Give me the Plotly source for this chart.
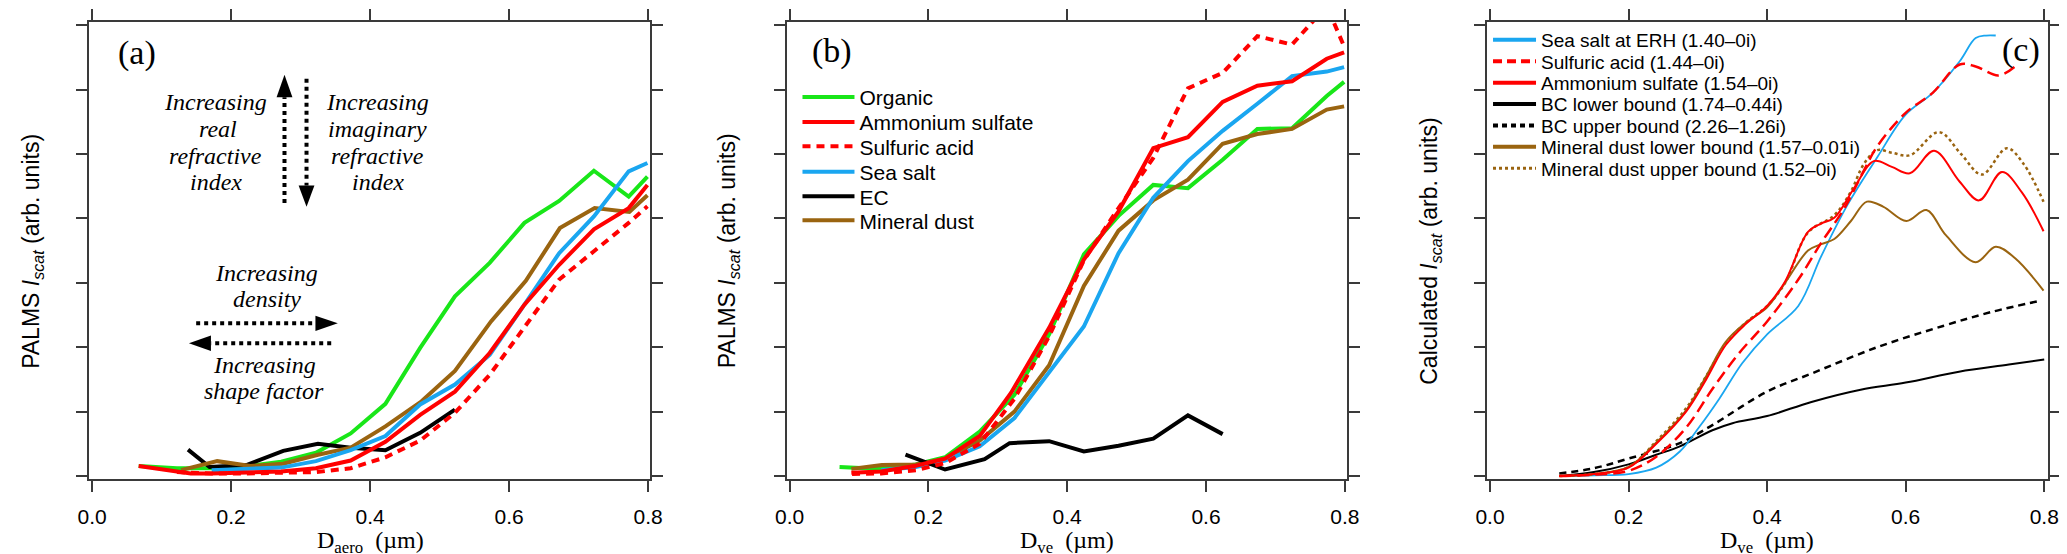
import plotly.graph_objects as go

# ---------------- data ----------------
# Panel (a): PALMS Iscat vs D_aero
a_org_x = [0.067, 0.122, 0.172, 0.222, 0.272, 0.322, 0.372, 0.422, 0.472, 0.522, 0.572, 0.622, 0.672, 0.722, 0.772, 0.799]
a_org_y = [0.155, 0.12, 0.12, 0.15, 0.22, 0.36, 0.66, 1.12, 1.99, 2.79, 3.31, 3.93, 4.27, 4.74, 4.34, 4.65]
a_as_x = [0.067, 0.142, 0.172, 0.222, 0.272, 0.322, 0.372, 0.422, 0.472, 0.522, 0.572, 0.622, 0.672, 0.722, 0.772, 0.799]
a_as_y = [0.155, 0.04, 0.04, 0.05, 0.07, 0.12, 0.24, 0.53, 0.95, 1.31, 1.91, 2.66, 3.28, 3.83, 4.16, 4.52]
a_sa_x = [0.122, 0.172, 0.222, 0.272, 0.322, 0.372, 0.422, 0.472, 0.522, 0.572, 0.622, 0.672, 0.722, 0.772, 0.799]
a_sa_y = [0.06, 0.04, 0.04, 0.05, 0.06, 0.12, 0.29, 0.55, 0.98, 1.57, 2.30, 3.05, 3.49, 3.93, 4.19]
a_ss_x = [0.172, 0.222, 0.272, 0.322, 0.372, 0.422, 0.472, 0.522, 0.572, 0.622, 0.672, 0.722, 0.772, 0.799]
a_ss_y = [0.09, 0.11, 0.13, 0.23, 0.40, 0.62, 1.11, 1.42, 1.88, 2.66, 3.46, 4.03, 4.73, 4.86]
a_ec_x = [0.138, 0.169, 0.222, 0.275, 0.325, 0.372, 0.422, 0.472, 0.522]
a_ec_y = [0.41, 0.14, 0.17, 0.39, 0.50, 0.44, 0.40, 0.67, 1.03]
a_md_x = [0.128, 0.180, 0.228, 0.275, 0.325, 0.372, 0.422, 0.474, 0.522, 0.574, 0.624, 0.673, 0.723, 0.773, 0.799]
a_md_y = [0.09, 0.23, 0.155, 0.19, 0.33, 0.44, 0.77, 1.16, 1.63, 2.40, 3.03, 3.85, 4.16, 4.10, 4.36]

# Panel (b): PALMS Iscat vs D_ve
b_org_x = [0.072, 0.132, 0.182, 0.224, 0.274, 0.324, 0.374, 0.424, 0.474, 0.524, 0.574, 0.624, 0.674, 0.724, 0.774, 0.799]
b_org_y = [0.14, 0.11, 0.18, 0.29, 0.69, 1.26, 2.20, 3.44, 4.04, 4.52, 4.47, 4.91, 5.39, 5.40, 5.90, 6.12]
b_as_x = [0.089, 0.132, 0.182, 0.224, 0.274, 0.319, 0.374, 0.424, 0.474, 0.524, 0.574, 0.624, 0.674, 0.724, 0.774, 0.799]
b_as_y = [0.05, 0.07, 0.16, 0.27, 0.62, 1.29, 2.30, 3.36, 4.11, 5.09, 5.26, 5.81, 6.06, 6.13, 6.48, 6.58]
b_sa_x = [0.090, 0.132, 0.182, 0.224, 0.274, 0.324, 0.374, 0.424, 0.474, 0.524, 0.574, 0.624, 0.674, 0.724, 0.774, 0.799]
b_sa_y = [0.03, 0.04, 0.09, 0.20, 0.50, 1.20, 2.17, 3.35, 4.16, 4.94, 6.02, 6.26, 6.83, 6.70, 7.30, 6.67]
b_ss_x = [0.132, 0.182, 0.224, 0.274, 0.324, 0.374, 0.424, 0.474, 0.524, 0.574, 0.624, 0.674, 0.724, 0.774, 0.799]
b_ss_y = [0.09, 0.14, 0.24, 0.46, 0.90, 1.60, 2.32, 3.46, 4.32, 4.89, 5.36, 5.78, 6.21, 6.28, 6.35]
b_ec_x = [0.167, 0.224, 0.281, 0.317, 0.374, 0.424, 0.474, 0.524, 0.574, 0.624]
b_ec_y = [0.33, 0.10, 0.26, 0.51, 0.54, 0.38, 0.47, 0.58, 0.94, 0.65]
b_md_x = [0.089, 0.133, 0.182, 0.224, 0.274, 0.324, 0.374, 0.424, 0.474, 0.524, 0.574, 0.624, 0.674, 0.724, 0.774, 0.799]
b_md_y = [0.11, 0.17, 0.18, 0.27, 0.55, 1.00, 1.72, 2.95, 3.81, 4.28, 4.60, 5.16, 5.31, 5.39, 5.69, 5.74]

# Panel (c): calculated Iscat vs D_ve
c_ss_x = [0.10, 0.15, 0.20, 0.24, 0.274, 0.302, 0.331, 0.364, 0.40, 0.445, 0.478, 0.516, 0.559, 0.60, 0.639, 0.678, 0.701, 0.716, 0.730]
c_ss_y = [0.0, 0.01, 0.03, 0.13, 0.38, 0.76, 1.20, 1.75, 2.20, 2.64, 3.41, 4.21, 4.95, 5.61, 5.95, 6.44, 6.80, 6.84, 6.84]
c_sa_x = [0.10, 0.15, 0.20, 0.24, 0.283, 0.321, 0.359, 0.40, 0.445, 0.478, 0.511, 0.54, 0.559, 0.60, 0.639, 0.678, 0.701, 0.734, 0.758]
c_sa_y = [0.0, 0.02, 0.08, 0.30, 0.75, 1.35, 1.90, 2.40, 3.05, 3.62, 4.15, 4.75, 5.12, 5.64, 5.95, 6.39, 6.36, 6.22, 6.36]
c_as_x = [0.10, 0.15, 0.20, 0.24, 0.283, 0.312, 0.340, 0.369, 0.40, 0.426, 0.459, 0.478, 0.497, 0.525, 0.554, 0.58, 0.606, 0.641, 0.678, 0.706, 0.739, 0.768, 0.799]
c_as_y = [0.0, 0.03, 0.13, 0.50, 1.00, 1.50, 2.03, 2.36, 2.64, 3.02, 3.79, 3.92, 4.01, 4.46, 4.89, 4.80, 4.70, 5.05, 4.57, 4.28, 4.72, 4.40, 3.80]
c_bcl_x = [0.10, 0.15, 0.20, 0.24, 0.274, 0.321, 0.350, 0.40, 0.464, 0.535, 0.60, 0.677, 0.749, 0.80]
c_bcl_y = [0.0, 0.06, 0.18, 0.33, 0.46, 0.71, 0.82, 0.93, 1.15, 1.34, 1.45, 1.62, 1.73, 1.81]
c_bcu_x = [0.10, 0.15, 0.20, 0.274, 0.321, 0.40, 0.464, 0.559, 0.654, 0.725, 0.794]
c_bcu_y = [0.04, 0.12, 0.27, 0.51, 0.79, 1.31, 1.59, 2.00, 2.33, 2.55, 2.72]
c_mdl_x = [0.10, 0.15, 0.20, 0.24, 0.283, 0.312, 0.340, 0.369, 0.40, 0.426, 0.459, 0.478, 0.497, 0.521, 0.544, 0.568, 0.601, 0.630, 0.658, 0.701, 0.730, 0.758, 0.799]
c_mdl_y = [0.0, 0.03, 0.14, 0.52, 1.02, 1.55, 2.08, 2.38, 2.62, 3.00, 3.50, 3.60, 3.68, 3.96, 4.26, 4.18, 3.96, 4.13, 3.74, 3.32, 3.56, 3.38, 2.88]
c_mdu_x = [0.10, 0.15, 0.20, 0.24, 0.283, 0.312, 0.340, 0.369, 0.40, 0.426, 0.459, 0.497, 0.52, 0.54, 0.559, 0.58, 0.606, 0.648, 0.680, 0.710, 0.746, 0.770, 0.799]
c_mdu_y = [0.0, 0.03, 0.14, 0.54, 1.05, 1.55, 2.05, 2.38, 2.64, 3.00, 3.78, 4.05, 4.40, 4.85, 5.06, 5.02, 4.98, 5.34, 5.00, 4.68, 5.09, 4.85, 4.26]

x_tickvals = [0.0, 0.2, 0.4, 0.6, 0.8]
x_ticktext = ["0.0", "0.2", "0.4", "0.6", "0.8"]
y_tickvals = [0, 1, 2, 3, 4, 5, 6, 7]

b_names = ["Organic", "Ammonium sulfate", "Sulfuric acid", "Sea salt", "EC", "Mineral dust"]
c_names = ["Sea salt at ERH (1.40\u20130i)", "Sulfuric acid (1.44\u20130i)", "Ammonium sulfate (1.54\u20130i)",
           "BC lower bound (1.74\u20130.44i)", "BC upper bound (2.26\u20131.26i)",
           "Mineral dust lower bound (1.57\u20130.01i)", "Mineral dust upper bound (1.52\u20130i)"]

# ---------------- style ----------------
W, H = 2067, 554
GREEN = "#19E619"
RED = "#FF0000"
BLUE = "#1AA6F0"
BLACK = "#000000"
BROWN = "#9A6410"
AXC = "#3a3a3a"
SANS = "Liberation Sans, Arial, sans-serif"
SERIF = "Liberation Serif, Times New Roman, serif"


def px(p):
    return p / W


def py(p):
    return 1 - p / H


fig = go.Figure()

# panel (a)
a_series = [
    (a_org_x, a_org_y, GREEN, "solid"),
    (a_ec_x, a_ec_y, BLACK, "solid"),
    (a_md_x, a_md_y, BROWN, "solid"),
    (a_ss_x, a_ss_y, BLUE, "solid"),
    (a_sa_x, a_sa_y, RED, "8px,6px"),
    (a_as_x, a_as_y, RED, "solid"),
]
for xs, ys, col, dash in a_series:
    fig.add_trace(go.Scatter(x=xs, y=ys, mode="lines", xaxis="x", yaxis="y",
                             line=dict(color=col, width=4, dash=dash), showlegend=False,
                             hoverinfo="skip"))

# panel (b)
b_series = [
    (b_org_x, b_org_y, GREEN, "solid", 0),
    (b_md_x, b_md_y, BROWN, "solid", 5),
    (b_ss_x, b_ss_y, BLUE, "solid", 3),
    (b_ec_x, b_ec_y, BLACK, "solid", 4),
    (b_sa_x, b_sa_y, RED, "8px,6px", 2),
    (b_as_x, b_as_y, RED, "solid", 1),
]
for xs, ys, col, dash, k in b_series:
    lg = "legend" if k == 0 else "legend%d" % (k + 1)
    fig.add_trace(go.Scatter(x=xs, y=ys, mode="lines", xaxis="x2", yaxis="y2", name=b_names[k],
                             line=dict(color=col, width=4, dash=dash), showlegend=True,
                             legend=lg, hoverinfo="skip"))

# panel (c)
c_series = [
    (c_bcl_x, c_bcl_y, BLACK, "solid", 2.0, 3),
    (c_bcu_x, c_bcu_y, BLACK, "7px,5px", 2.5, 4),
    (c_ss_x, c_ss_y, BLUE, "solid", 1.8, 0),
    (c_mdl_x, c_mdl_y, BROWN, "solid", 2.0, 5),
    (c_mdu_x, c_mdu_y, BROWN, "dot", 2.5, 6),
    (c_as_x, c_as_y, RED, "solid", 2.0, 2),
    (c_sa_x, c_sa_y, RED, "12px,6px", 2.5, 1),
]
legend_dash = {0: "solid", 1: "9px,5px", 2: "solid", 3: "solid", 4: "5px,4px", 5: "solid", 6: "dot"}
for xs, ys, col, dash, w, k in c_series:
    fig.add_trace(go.Scatter(x=xs, y=ys, mode="lines", xaxis="x3", yaxis="y3",
                             line=dict(color=col, width=w, dash=dash, shape="spline", smoothing=1.0),
                             showlegend=False, hoverinfo="skip"))
# legend entries for panel (c), drawn with the thicker legend line of the original
c_cols = [BLUE, RED, RED, BLACK, BLACK, BROWN, BROWN]
for k in range(7):
    fig.add_trace(go.Scatter(x=[None], y=[None], mode="lines", xaxis="x3", yaxis="y3", name=c_names[k],
                             line=dict(color=c_cols[k], width=4 if k != 6 else 3, dash=legend_dash[k]),
                             showlegend=True, legend="legend%d" % (k + 7)))

axis_common = dict(showgrid=False, zeroline=False, showline=True, linecolor=AXC, linewidth=2,
                   mirror="ticks", ticks="outside", ticklen=11, tickwidth=2, tickcolor=AXC)
xaxis_common = dict(axis_common, tickvals=x_tickvals, ticktext=x_ticktext,
                    tickfont=dict(family=SANS, size=21, color="black"), ticklabelstandoff=7)
yaxis_common = dict(axis_common, tickvals=y_tickvals, showticklabels=False, range=[-0.047, 7.05],
                    domain=[py(471), py(14)])

layout = dict(
    width=W, height=H, margin=dict(l=0, r=0, t=0, b=0),
    paper_bgcolor="white", plot_bgcolor="white",
    xaxis=dict(xaxis_common, domain=[px(70), px(638)], range=[-0.00426, 0.8031], anchor="y"),
    yaxis=dict(yaxis_common, anchor="x"),
    xaxis2=dict(xaxis_common, domain=[px(776), px(1343)], range=[-0.00427, 0.8028], anchor="y2"),
    yaxis2=dict(yaxis_common, anchor="x2"),
    xaxis3=dict(xaxis_common, domain=[px(1485), px(2053)], range=[-0.0043, 0.8057], anchor="y3"),
    yaxis3=dict(yaxis_common, anchor="x3"),
)

# legends: one per entry, so row spacing follows the original
b_rows = [89.3, 114.3, 138.7, 164.0, 188.7, 212.7]
for k, r in enumerate(b_rows):
    key = "legend" if k == 0 else "legend%d" % (k + 1)
    layout[key] = dict(x=px(787), y=py(r), xanchor="left", yanchor="middle", bgcolor="rgba(0,0,0,0)",
                       borderwidth=0, font=dict(family=SANS, size=21, color="black"), itemwidth=52,
                       tracegroupgap=0)
c_rows = [32.0, 53.5, 74.8, 96.2, 117.6, 139.0, 160.4]
for k, r in enumerate(c_rows):
    layout["legend%d" % (k + 7)] = dict(x=px(1486), y=py(r), xanchor="left", yanchor="middle",
                                        bgcolor="rgba(0,0,0,0)", borderwidth=0,
                                        font=dict(family=SANS, size=19, color="black"), itemwidth=43,
                                        tracegroupgap=0)

fig.update_layout(**layout)

# ---------------- annotations ----------------
ann = []
# panel labels
for txt, cx, cy in [("(a)", 118, 45), ("(b)", 822, 43), ("(c)", 2026, 42)]:
    ann.append(dict(text=txt, x=px(cx), y=py(cy), xref="paper", yref="paper", showarrow=False,
                    xanchor="center", yanchor="middle", font=dict(family=SERIF, size=34, color="black")))
# axis titles
for txt, cx in [("D<sub>aero</sub>\u2002(\u00b5m)", 354.5), ("D<sub>ve</sub>\u2002(\u00b5m)", 1060),
                ("D<sub>ve</sub>\u2002(\u00b5m)", 1768.5)]:
    ann.append(dict(text=txt, x=px(cx), y=py(534), xref="paper", yref="paper", showarrow=False,
                    xanchor="center", yanchor="middle", font=dict(family=SERIF, size=24, color="black")))
for txt, cx in [("PALMS <i>I</i><sub><i>scat</i></sub> (arb. units)", 12),
                ("PALMS <i>I</i><sub><i>scat</i></sub> (arb. units)", 717),
                ("Calculated <i>I</i><sub><i>scat</i></sub> (arb. units)", 1427)]:
    ann.append(dict(text=txt, x=px(cx), y=py(243), xref="paper", yref="paper", showarrow=False,
                    textangle=-90, xanchor="center", yanchor="middle",
                    font=dict(family=SANS, size=23, color="black")))
# italic notes in panel (a)
notes = [
    ("Increasing", 198, 94.3), ("real", 200, 121.0), ("refractive", 198, 147.7), ("index", 198, 174.3),
    ("Increasing", 362, 94.3), ("imaginary", 362, 121.0), ("refractive", 362, 147.7), ("index", 362, 174.3),
    ("Increasing", 250, 264.5), ("density", 250, 291.0),
    ("Increasing", 247, 357.0), ("shape factor", 247, 383.0),
]
for txt, cx, cy in notes:
    ann.append(dict(text=txt, x=px(cx), y=py(cy), xref="paper", yref="paper", showarrow=False,
                    xanchor="center", yanchor="middle",
                    font=dict(family=SERIF, size=24, color="black", style="italic")))
fig.update_layout(annotations=ann)

# dotted arrows in panel (a), in the panel's data coordinates
shapes = []
def dotted(x0, y0, x1, y1):
    shapes.append(dict(type="line", xref="x", yref="y", x0=x0, y0=y0, x1=x1, y1=y1,
                       line=dict(color="black", width=4, dash="dot")))
def head(pts):
    path = "M " + " L ".join("%g,%g" % p for p in pts) + " Z"
    shapes.append(dict(type="path", xref="x", yref="y", path=path, fillcolor="black",
                       line=dict(color="black", width=0)))

hw = 0.0114   # half width of vertical arrow heads (x units)
hh = 0.12     # half height of horizontal arrow heads (y units)
# up arrow
dotted(0.2768, 4.24, 0.2768, 5.88)
head([(0.2768 - hw, 5.88), (0.2768 + hw, 5.88), (0.2768, 6.23)])
# down arrow
dotted(0.3085, 6.17, 0.3085, 4.51)
head([(0.3085 - hw, 4.51), (0.3085 + hw, 4.51), (0.3085, 4.18)])
# right arrow
dotted(0.1497, 2.37, 0.3213, 2.37)
head([(0.3213, 2.37 - hh), (0.3213, 2.37 + hh), (0.3535, 2.37)])
# left arrow
dotted(0.344, 2.06, 0.171, 2.06)
head([(0.171, 2.06 - hh), (0.171, 2.06 + hh), (0.1393, 2.06)])
fig.update_layout(shapes=shapes)

fig.write_html("out.html")
